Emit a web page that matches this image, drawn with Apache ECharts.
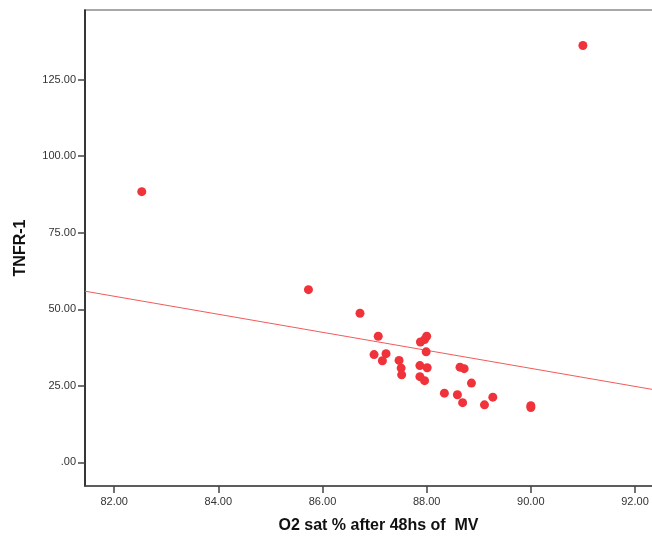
<!DOCTYPE html>
<html><head><meta charset="utf-8">
<script src="https://cdn.jsdelivr.net/npm/echarts@6/dist/echarts.min.js"></script>
<style>html,body{margin:0;padding:0;background:#fff}#c{width:652px;height:536px}</style>
</head><body><div id="c"></div>
<script>
// O2 saturation (%) after 48 h of MV
const o2sat = [82.53, 91.0, 85.73, 86.72, 87.07, 86.99, 87.22, 87.15, 87.47, 87.51, 87.52,
  88.0, 87.96, 87.88, 87.99, 87.87, 88.01, 87.87, 87.96, 88.34, 88.59, 88.69, 88.64, 88.72,
  88.86, 89.11, 89.27, 90.0, 90.0];
// TNFR-1
const tnfr1 = [88.4, 136.1, 56.4, 48.7, 41.2, 35.2, 35.5, 33.2, 33.3, 30.8, 28.6,
  41.2, 40.1, 39.3, 36.1, 31.6, 30.9, 28.0, 26.7, 22.6, 22.1, 19.5, 31.1, 30.6,
  25.9, 18.8, 21.3, 18.5, 17.9];
// fit line endpoints (x, y)
const fitX = [81.44, 92.48];
const fitY = [55.9, 23.4];
const xTicks = [82, 84, 86, 88, 90, 92];
const yTicks = [0, 25, 50, 75, 100, 125];

const fmt = v => { const s = Number(v).toFixed(2); return s.startsWith('0.') ? s.slice(1) : s; };

const chart = echarts.init(document.getElementById('c'), null, {renderer: 'canvas'});
chart.setOption({
  animation: false,
  backgroundColor: '#fff',
  grid: {left: 85, top: 10, width: 575, height: 476, containLabel: false, outerBoundsMode: 'none',
         show: true, borderColor: '#8c8c8c', borderWidth: 1.5, backgroundColor: 'transparent'},
  xAxis: {
    type: 'value', min: 81.44, max: 92.48,
    name: 'O2 sat % after 48hs of  MV', nameLocation: 'middle', nameGap: 32,
    nameTextStyle: {fontFamily: 'Liberation Sans', fontWeight: 'bold', fontSize: 16, color: '#111', padding: [0, 0, 0, 12]},
    splitLine: {show: false},
    axisLine: {onZero: false, lineStyle: {color: '#444', width: 1.5}},
    axisTick: {customValues: xTicks, length: 7, lineStyle: {color: '#444', width: 1.5}},
    axisLabel: {customValues: xTicks, formatter: fmt, fontFamily: 'Liberation Sans', fontSize: 11, color: '#333', margin: 10}
  },
  yAxis: {
    type: 'value', min: -7.7, max: 147.7,
    name: 'TNFR-1', nameLocation: 'middle', nameGap: 56, nameRotate: 90,
    nameTextStyle: {fontFamily: 'Liberation Sans', fontWeight: 'bold', fontSize: 16, color: '#111'},
    splitLine: {show: false},
    axisLine: {onZero: false, lineStyle: {color: '#111', width: 1.5}},
    axisTick: {customValues: yTicks, length: 7, lineStyle: {color: '#444', width: 1.5}},
    axisLabel: {customValues: yTicks, formatter: fmt, fontFamily: 'Liberation Sans', fontSize: 11, color: '#333', margin: 9}
  },
  series: [
    {type: 'line', data: fitX.map((x, i) => [x, fitY[i]]), symbol: 'none', silent: true,
     lineStyle: {color: '#f25a5a', width: 1}, z: 1},
    {type: 'scatter', data: o2sat.map((x, i) => [x, tnfr1[i]]), symbol: 'circle', symbolSize: 9,
     itemStyle: {color: '#f0333a', opacity: 1}, z: 2}
  ]
});
</script></body></html>
